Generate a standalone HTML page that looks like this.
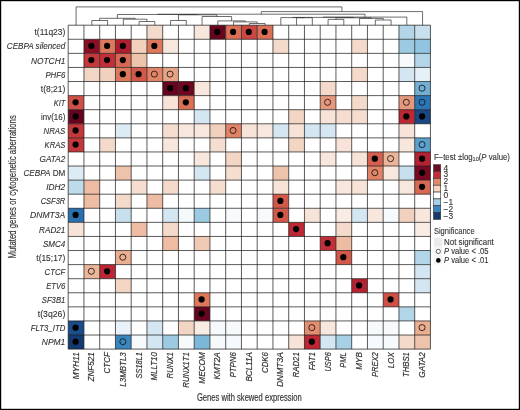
<!DOCTYPE html>
<html lang="en"><head><meta charset="utf-8"><title>Heatmap of mutated genes versus genes with skewed expression</title>
<style>html,body{margin:0;padding:0;background:#fff}body{width:520px;height:410px;overflow:hidden}svg{display:block}text{font-family:"Liberation Sans",Arial,sans-serif;fill:#303030}.i{font-style:italic}#legend text{stroke:#303030;stroke-width:.1px}</style></head><body>
<svg width="520" height="410" viewBox="0 0 520 410">
<rect x="0" y="0" width="520" height="410" fill="#fff"/>
<g id="plot">
<g id="cells" shape-rendering="geometricPrecision">
<rect x="146.95" y="25.20" width="15.75" height="14.08" fill="#f4daca"/>
<rect x="194.20" y="25.20" width="15.75" height="14.08" fill="#f8e7dd"/>
<rect x="209.95" y="25.20" width="15.75" height="14.08" fill="#67051f"/>
<rect x="225.70" y="25.20" width="15.75" height="14.08" fill="#da7058"/>
<rect x="241.45" y="25.20" width="15.75" height="14.08" fill="#cb4842"/>
<rect x="257.20" y="25.20" width="15.75" height="14.08" fill="#da7058"/>
<rect x="398.95" y="25.20" width="15.75" height="14.08" fill="#b2d5e8"/>
<rect x="414.70" y="25.20" width="15.75" height="14.08" fill="#c8e0ee"/>
<rect x="83.95" y="39.28" width="15.75" height="14.08" fill="#8c0e26"/>
<rect x="99.70" y="39.28" width="15.75" height="14.08" fill="#dd785c"/>
<rect x="115.45" y="39.28" width="15.75" height="14.08" fill="#ad1e2f"/>
<rect x="131.20" y="39.28" width="15.75" height="14.08" fill="#f1d1bd"/>
<rect x="146.95" y="39.28" width="15.75" height="14.08" fill="#dd785c"/>
<rect x="162.70" y="39.28" width="15.75" height="14.08" fill="#f8e7dd"/>
<rect x="272.95" y="39.28" width="15.75" height="14.08" fill="#f4daca"/>
<rect x="351.70" y="39.28" width="15.75" height="14.08" fill="#f4daca"/>
<rect x="398.95" y="39.28" width="15.75" height="14.08" fill="#9ccae2"/>
<rect x="414.70" y="39.28" width="15.75" height="14.08" fill="#91c4df"/>
<rect x="83.95" y="53.37" width="15.75" height="14.08" fill="#c4373b"/>
<rect x="99.70" y="53.37" width="15.75" height="14.08" fill="#c12f38"/>
<rect x="115.45" y="53.37" width="15.75" height="14.08" fill="#d76853"/>
<rect x="131.20" y="53.37" width="15.75" height="14.08" fill="#eec3ab"/>
<rect x="398.95" y="53.37" width="15.75" height="14.08" fill="#f6fafc"/>
<rect x="414.70" y="53.37" width="15.75" height="14.08" fill="#b2d5e8"/>
<rect x="83.95" y="67.45" width="15.75" height="14.08" fill="#f2d5c3"/>
<rect x="99.70" y="67.45" width="15.75" height="14.08" fill="#f1d1bd"/>
<rect x="115.45" y="67.45" width="15.75" height="14.08" fill="#dd785c"/>
<rect x="131.20" y="67.45" width="15.75" height="14.08" fill="#d2584a"/>
<rect x="146.95" y="67.45" width="15.75" height="14.08" fill="#e08367"/>
<rect x="162.70" y="67.45" width="15.75" height="14.08" fill="#e7a386"/>
<rect x="351.70" y="67.45" width="15.75" height="14.08" fill="#f4daca"/>
<rect x="398.95" y="67.45" width="15.75" height="14.08" fill="#d3e6f1"/>
<rect x="414.70" y="67.45" width="15.75" height="14.08" fill="#e5f0f7"/>
<rect x="162.70" y="81.53" width="15.75" height="14.08" fill="#67051f"/>
<rect x="178.45" y="81.53" width="15.75" height="14.08" fill="#700721"/>
<rect x="194.20" y="81.53" width="15.75" height="14.08" fill="#f8e7dd"/>
<rect x="320.20" y="81.53" width="15.75" height="14.08" fill="#f4daca"/>
<rect x="414.70" y="81.53" width="15.75" height="14.08" fill="#71b0d4"/>
<rect x="68.20" y="95.61" width="15.75" height="14.08" fill="#cf5046"/>
<rect x="162.70" y="95.61" width="15.75" height="14.08" fill="#f7e3d7"/>
<rect x="178.45" y="95.61" width="15.75" height="14.08" fill="#da7058"/>
<rect x="320.20" y="95.61" width="15.75" height="14.08" fill="#e5987c"/>
<rect x="351.70" y="95.61" width="15.75" height="14.08" fill="#f4daca"/>
<rect x="398.95" y="95.61" width="15.75" height="14.08" fill="#e5987c"/>
<rect x="414.70" y="95.61" width="15.75" height="14.08" fill="#2b77b6"/>
<rect x="68.20" y="109.70" width="15.75" height="14.08" fill="#67051f"/>
<rect x="194.20" y="109.70" width="15.75" height="14.08" fill="#d3e6f1"/>
<rect x="288.70" y="109.70" width="15.75" height="14.08" fill="#f2d5c3"/>
<rect x="320.20" y="109.70" width="15.75" height="14.08" fill="#f7e3d7"/>
<rect x="335.95" y="109.70" width="15.75" height="14.08" fill="#f5ded0"/>
<rect x="351.70" y="109.70" width="15.75" height="14.08" fill="#f5ded0"/>
<rect x="398.95" y="109.70" width="15.75" height="14.08" fill="#bd2734"/>
<rect x="414.70" y="109.70" width="15.75" height="14.08" fill="#184784"/>
<rect x="68.20" y="123.78" width="15.75" height="14.08" fill="#c4373b"/>
<rect x="115.45" y="123.78" width="15.75" height="14.08" fill="#dcebf4"/>
<rect x="162.70" y="123.78" width="15.75" height="14.08" fill="#f5ded0"/>
<rect x="178.45" y="123.78" width="15.75" height="14.08" fill="#f8e7dd"/>
<rect x="194.20" y="123.78" width="15.75" height="14.08" fill="#f8e7dd"/>
<rect x="209.95" y="123.78" width="15.75" height="14.08" fill="#f1d1bd"/>
<rect x="225.70" y="123.78" width="15.75" height="14.08" fill="#e08367"/>
<rect x="241.45" y="123.78" width="15.75" height="14.08" fill="#f7e3d7"/>
<rect x="257.20" y="123.78" width="15.75" height="14.08" fill="#f8e7dd"/>
<rect x="272.95" y="123.78" width="15.75" height="14.08" fill="#d3e6f1"/>
<rect x="288.70" y="123.78" width="15.75" height="14.08" fill="#f7e3d7"/>
<rect x="304.45" y="123.78" width="15.75" height="14.08" fill="#d3e6f1"/>
<rect x="320.20" y="123.78" width="15.75" height="14.08" fill="#d3e6f1"/>
<rect x="398.95" y="123.78" width="15.75" height="14.08" fill="#f7e3d7"/>
<rect x="68.20" y="137.86" width="15.75" height="14.08" fill="#c4373b"/>
<rect x="99.70" y="137.86" width="15.75" height="14.08" fill="#f4daca"/>
<rect x="162.70" y="137.86" width="15.75" height="14.08" fill="#f8e7dd"/>
<rect x="209.95" y="137.86" width="15.75" height="14.08" fill="#f5ded0"/>
<rect x="288.70" y="137.86" width="15.75" height="14.08" fill="#f2d5c3"/>
<rect x="335.95" y="137.86" width="15.75" height="14.08" fill="#f7e3d7"/>
<rect x="398.95" y="137.86" width="15.75" height="14.08" fill="#f8e7dd"/>
<rect x="414.70" y="137.86" width="15.75" height="14.08" fill="#5ba1cd"/>
<rect x="194.20" y="151.94" width="15.75" height="14.08" fill="#f8e7dd"/>
<rect x="225.70" y="151.94" width="15.75" height="14.08" fill="#f2d5c3"/>
<rect x="320.20" y="151.94" width="15.75" height="14.08" fill="#f8e7dd"/>
<rect x="351.70" y="151.94" width="15.75" height="14.08" fill="#f7e3d7"/>
<rect x="367.45" y="151.94" width="15.75" height="14.08" fill="#d5604f"/>
<rect x="383.20" y="151.94" width="15.75" height="14.08" fill="#ebb59a"/>
<rect x="414.70" y="151.94" width="15.75" height="14.08" fill="#b52232"/>
<rect x="68.20" y="166.03" width="15.75" height="14.08" fill="#dcebf4"/>
<rect x="115.45" y="166.03" width="15.75" height="14.08" fill="#eec3ab"/>
<rect x="194.20" y="166.03" width="15.75" height="14.08" fill="#d3e6f1"/>
<rect x="225.70" y="166.03" width="15.75" height="14.08" fill="#f5ded0"/>
<rect x="272.95" y="166.03" width="15.75" height="14.08" fill="#eec3ab"/>
<rect x="367.45" y="166.03" width="15.75" height="14.08" fill="#e08367"/>
<rect x="383.20" y="166.03" width="15.75" height="14.08" fill="#f8e7dd"/>
<rect x="398.95" y="166.03" width="15.75" height="14.08" fill="#c8e0ee"/>
<rect x="414.70" y="166.03" width="15.75" height="14.08" fill="#790923"/>
<rect x="68.20" y="180.11" width="15.75" height="14.08" fill="#bddbeb"/>
<rect x="83.95" y="180.11" width="15.75" height="14.08" fill="#edbca3"/>
<rect x="131.20" y="180.11" width="15.75" height="14.08" fill="#f5ded0"/>
<rect x="162.70" y="180.11" width="15.75" height="14.08" fill="#f4daca"/>
<rect x="209.95" y="180.11" width="15.75" height="14.08" fill="#f5ded0"/>
<rect x="272.95" y="180.11" width="15.75" height="14.08" fill="#f7e3d7"/>
<rect x="335.95" y="180.11" width="15.75" height="14.08" fill="#f8e7dd"/>
<rect x="351.70" y="180.11" width="15.75" height="14.08" fill="#f7e3d7"/>
<rect x="398.95" y="180.11" width="15.75" height="14.08" fill="#f8e7dd"/>
<rect x="414.70" y="180.11" width="15.75" height="14.08" fill="#d76853"/>
<rect x="83.95" y="194.19" width="15.75" height="14.08" fill="#edbca3"/>
<rect x="115.45" y="194.19" width="15.75" height="14.08" fill="#f4daca"/>
<rect x="146.95" y="194.19" width="15.75" height="14.08" fill="#edbca3"/>
<rect x="272.95" y="194.19" width="15.75" height="14.08" fill="#d2584a"/>
<rect x="68.20" y="208.27" width="15.75" height="14.08" fill="#2870b0"/>
<rect x="115.45" y="208.27" width="15.75" height="14.08" fill="#c8e0ee"/>
<rect x="162.70" y="208.27" width="15.75" height="14.08" fill="#d3e6f1"/>
<rect x="178.45" y="208.27" width="15.75" height="14.08" fill="#f4f9fc"/>
<rect x="194.20" y="208.27" width="15.75" height="14.08" fill="#9ccae2"/>
<rect x="225.70" y="208.27" width="15.75" height="14.08" fill="#f6fafc"/>
<rect x="257.20" y="208.27" width="15.75" height="14.08" fill="#f6fafc"/>
<rect x="272.95" y="208.27" width="15.75" height="14.08" fill="#d2584a"/>
<rect x="304.45" y="208.27" width="15.75" height="14.08" fill="#f7e3d7"/>
<rect x="335.95" y="208.27" width="15.75" height="14.08" fill="#f9ece4"/>
<rect x="351.70" y="208.27" width="15.75" height="14.08" fill="#d3e6f1"/>
<rect x="367.45" y="208.27" width="15.75" height="14.08" fill="#f8e7dd"/>
<rect x="383.20" y="208.27" width="15.75" height="14.08" fill="#f6fafc"/>
<rect x="398.95" y="208.27" width="15.75" height="14.08" fill="#f1d1bd"/>
<rect x="414.70" y="208.27" width="15.75" height="14.08" fill="#f8e7dd"/>
<rect x="68.20" y="222.36" width="15.75" height="14.08" fill="#f7e3d7"/>
<rect x="131.20" y="222.36" width="15.75" height="14.08" fill="#edbca3"/>
<rect x="162.70" y="222.36" width="15.75" height="14.08" fill="#f4daca"/>
<rect x="288.70" y="222.36" width="15.75" height="14.08" fill="#bd2734"/>
<rect x="335.95" y="222.36" width="15.75" height="14.08" fill="#f4daca"/>
<rect x="414.70" y="222.36" width="15.75" height="14.08" fill="#f9ece4"/>
<rect x="162.70" y="236.44" width="15.75" height="14.08" fill="#edbca3"/>
<rect x="194.20" y="236.44" width="15.75" height="14.08" fill="#f0cab4"/>
<rect x="320.20" y="236.44" width="15.75" height="14.08" fill="#c12f38"/>
<rect x="335.95" y="236.44" width="15.75" height="14.08" fill="#edbca3"/>
<rect x="115.45" y="250.52" width="15.75" height="14.08" fill="#eaae91"/>
<rect x="335.95" y="250.52" width="15.75" height="14.08" fill="#d2584a"/>
<rect x="414.70" y="250.52" width="15.75" height="14.08" fill="#b2d5e8"/>
<rect x="83.95" y="264.60" width="15.75" height="14.08" fill="#ebb59a"/>
<rect x="99.70" y="264.60" width="15.75" height="14.08" fill="#bd2734"/>
<rect x="414.70" y="264.60" width="15.75" height="14.08" fill="#d3e6f1"/>
<rect x="115.45" y="278.69" width="15.75" height="14.08" fill="#f2d5c3"/>
<rect x="351.70" y="278.69" width="15.75" height="14.08" fill="#b52232"/>
<rect x="414.70" y="278.69" width="15.75" height="14.08" fill="#d3e6f1"/>
<rect x="194.20" y="292.77" width="15.75" height="14.08" fill="#dd785c"/>
<rect x="383.20" y="292.77" width="15.75" height="14.08" fill="#cf5046"/>
<rect x="194.20" y="306.85" width="15.75" height="14.08" fill="#67051f"/>
<rect x="398.95" y="306.85" width="15.75" height="14.08" fill="#b2d5e8"/>
<rect x="68.20" y="320.93" width="15.75" height="14.08" fill="#194d8c"/>
<rect x="115.45" y="320.93" width="15.75" height="14.08" fill="#e9f2f8"/>
<rect x="146.95" y="320.93" width="15.75" height="14.08" fill="#d3e6f1"/>
<rect x="178.45" y="320.93" width="15.75" height="14.08" fill="#f2d5c3"/>
<rect x="194.20" y="320.93" width="15.75" height="14.08" fill="#f9ece4"/>
<rect x="209.95" y="320.93" width="15.75" height="14.08" fill="#f6fafc"/>
<rect x="225.70" y="320.93" width="15.75" height="14.08" fill="#f6fafc"/>
<rect x="304.45" y="320.93" width="15.75" height="14.08" fill="#e28e71"/>
<rect x="320.20" y="320.93" width="15.75" height="14.08" fill="#f8e7dd"/>
<rect x="367.45" y="320.93" width="15.75" height="14.08" fill="#f6fafc"/>
<rect x="383.20" y="320.93" width="15.75" height="14.08" fill="#f6fafc"/>
<rect x="414.70" y="320.93" width="15.75" height="14.08" fill="#eaae91"/>
<rect x="68.20" y="335.02" width="15.75" height="14.08" fill="#143a72"/>
<rect x="115.45" y="335.02" width="15.75" height="14.08" fill="#3a87c0"/>
<rect x="131.20" y="335.02" width="15.75" height="14.08" fill="#f6fafc"/>
<rect x="146.95" y="335.02" width="15.75" height="14.08" fill="#d3e6f1"/>
<rect x="162.70" y="335.02" width="15.75" height="14.08" fill="#9ccae2"/>
<rect x="178.45" y="335.02" width="15.75" height="14.08" fill="#f6fafc"/>
<rect x="194.20" y="335.02" width="15.75" height="14.08" fill="#7cb7d8"/>
<rect x="209.95" y="335.02" width="15.75" height="14.08" fill="#f6fafc"/>
<rect x="225.70" y="335.02" width="15.75" height="14.08" fill="#f6fafc"/>
<rect x="288.70" y="335.02" width="15.75" height="14.08" fill="#f7e3d7"/>
<rect x="304.45" y="335.02" width="15.75" height="14.08" fill="#bd2734"/>
<rect x="320.20" y="335.02" width="15.75" height="14.08" fill="#d3e6f1"/>
<rect x="335.95" y="335.02" width="15.75" height="14.08" fill="#a7d0e5"/>
<rect x="367.45" y="335.02" width="15.75" height="14.08" fill="#f6fafc"/>
<rect x="383.20" y="335.02" width="15.75" height="14.08" fill="#f6fafc"/>
<rect x="398.95" y="335.02" width="15.75" height="14.08" fill="#f4daca"/>
<rect x="414.70" y="335.02" width="15.75" height="14.08" fill="#eec3ab"/>
</g>
<g id="grid" stroke="#1c1c1c" stroke-width="0.72" fill="none">
<path d="M68.20 25.20V349.10M83.95 25.20V349.10M99.70 25.20V349.10M115.45 25.20V349.10M131.20 25.20V349.10M146.95 25.20V349.10M162.70 25.20V349.10M178.45 25.20V349.10M194.20 25.20V349.10M209.95 25.20V349.10M225.70 25.20V349.10M241.45 25.20V349.10M257.20 25.20V349.10M272.95 25.20V349.10M288.70 25.20V349.10M304.45 25.20V349.10M320.20 25.20V349.10M335.95 25.20V349.10M351.70 25.20V349.10M367.45 25.20V349.10M383.20 25.20V349.10M398.95 25.20V349.10M414.70 25.20V349.10M430.45 25.20V349.10M68.20 25.20H430.45M68.20 39.28H430.45M68.20 53.37H430.45M68.20 67.45H430.45M68.20 81.53H430.45M68.20 95.61H430.45M68.20 109.70H430.45M68.20 123.78H430.45M68.20 137.86H430.45M68.20 151.94H430.45M68.20 166.03H430.45M68.20 180.11H430.45M68.20 194.19H430.45M68.20 208.27H430.45M68.20 222.36H430.45M68.20 236.44H430.45M68.20 250.52H430.45M68.20 264.60H430.45M68.20 278.69H430.45M68.20 292.77H430.45M68.20 306.85H430.45M68.20 320.93H430.45M68.20 335.02H430.45M68.20 349.10H430.45"/>
</g>
<g id="marks">
<circle cx="217.32" cy="31.89" r="3.1" fill="#000"/>
<circle cx="233.07" cy="31.89" r="3.1" fill="#000"/>
<circle cx="248.82" cy="31.89" r="3.1" fill="#000"/>
<circle cx="264.57" cy="31.89" r="3.1" fill="#000"/>
<circle cx="91.33" cy="45.97" r="3.1" fill="#000"/>
<circle cx="107.08" cy="45.97" r="3.1" fill="#000"/>
<circle cx="122.83" cy="45.97" r="3.1" fill="#000"/>
<circle cx="154.32" cy="45.97" r="3.1" fill="#000"/>
<circle cx="91.33" cy="60.06" r="3.1" fill="#000"/>
<circle cx="107.08" cy="60.06" r="3.1" fill="#000"/>
<circle cx="122.83" cy="60.06" r="3.1" fill="#000"/>
<circle cx="122.83" cy="74.14" r="3.1" fill="#000"/>
<circle cx="138.57" cy="74.14" r="3.1" fill="#000"/>
<circle cx="154.32" cy="74.14" r="3.05" fill="none" stroke="#1a1212" stroke-width="0.85"/>
<circle cx="170.07" cy="74.14" r="3.05" fill="none" stroke="#1a1212" stroke-width="0.85"/>
<circle cx="170.07" cy="88.22" r="3.1" fill="#000"/>
<circle cx="185.82" cy="88.22" r="3.1" fill="#000"/>
<circle cx="422.07" cy="88.22" r="3.05" fill="none" stroke="#1a1212" stroke-width="0.85"/>
<circle cx="75.58" cy="102.30" r="3.1" fill="#000"/>
<circle cx="185.82" cy="102.30" r="3.1" fill="#000"/>
<circle cx="327.57" cy="102.30" r="3.05" fill="none" stroke="#1a1212" stroke-width="0.85"/>
<circle cx="406.32" cy="102.30" r="3.05" fill="none" stroke="#1a1212" stroke-width="0.85"/>
<circle cx="422.07" cy="102.30" r="3.05" fill="none" stroke="#1a1212" stroke-width="0.85"/>
<circle cx="75.58" cy="116.39" r="3.1" fill="#000"/>
<circle cx="406.32" cy="116.39" r="3.1" fill="#000"/>
<circle cx="422.07" cy="116.39" r="3.1" fill="#000"/>
<circle cx="75.58" cy="130.47" r="3.1" fill="#000"/>
<circle cx="233.07" cy="130.47" r="3.05" fill="none" stroke="#1a1212" stroke-width="0.85"/>
<circle cx="75.58" cy="144.55" r="3.1" fill="#000"/>
<circle cx="422.07" cy="144.55" r="3.05" fill="none" stroke="#1a1212" stroke-width="0.85"/>
<circle cx="374.82" cy="158.63" r="3.1" fill="#000"/>
<circle cx="390.57" cy="158.63" r="3.05" fill="none" stroke="#1a1212" stroke-width="0.85"/>
<circle cx="422.07" cy="158.63" r="3.1" fill="#000"/>
<circle cx="374.82" cy="172.72" r="3.05" fill="none" stroke="#1a1212" stroke-width="0.85"/>
<circle cx="422.07" cy="172.72" r="3.1" fill="#000"/>
<circle cx="422.07" cy="186.80" r="3.1" fill="#000"/>
<circle cx="280.32" cy="200.88" r="3.1" fill="#000"/>
<circle cx="75.58" cy="214.97" r="3.1" fill="#000"/>
<circle cx="280.32" cy="214.97" r="3.1" fill="#000"/>
<circle cx="296.07" cy="229.05" r="3.1" fill="#000"/>
<circle cx="327.57" cy="243.13" r="3.1" fill="#000"/>
<circle cx="122.83" cy="257.21" r="3.05" fill="none" stroke="#1a1212" stroke-width="0.85"/>
<circle cx="343.32" cy="257.21" r="3.1" fill="#000"/>
<circle cx="91.33" cy="271.30" r="3.05" fill="none" stroke="#1a1212" stroke-width="0.85"/>
<circle cx="107.08" cy="271.30" r="3.1" fill="#000"/>
<circle cx="359.07" cy="285.38" r="3.1" fill="#000"/>
<circle cx="201.57" cy="299.46" r="3.1" fill="#000"/>
<circle cx="390.57" cy="299.46" r="3.1" fill="#000"/>
<circle cx="201.57" cy="313.54" r="3.1" fill="#000"/>
<circle cx="75.58" cy="327.63" r="3.1" fill="#000"/>
<circle cx="311.82" cy="327.63" r="3.05" fill="none" stroke="#1a1212" stroke-width="0.85"/>
<circle cx="422.07" cy="327.63" r="3.05" fill="none" stroke="#1a1212" stroke-width="0.85"/>
<circle cx="75.58" cy="341.71" r="3.1" fill="#000"/>
<circle cx="122.83" cy="341.71" r="3.05" fill="none" stroke="#1a1212" stroke-width="0.85"/>
<circle cx="311.82" cy="341.71" r="3.1" fill="#000"/>
</g>
<g id="dendrogram" fill="none" stroke="#2e2e2e" stroke-width="0.7">
<path d="M91.83 25.20V20.50H107.58V25.20"/>
<path d="M139.07 25.20V21.50H154.82V25.20"/>
<path d="M123.33 25.20V19.20H146.95V21.50"/>
<path d="M99.70 20.50V18.30H135.14V19.20"/>
<path d="M170.57 25.20V20.50H186.32V25.20"/>
<path d="M249.32 25.20V23.50H265.07V25.20"/>
<path d="M233.57 25.20V21.90H257.20V23.50"/>
<path d="M217.82 25.20V20.90H245.39V21.90"/>
<path d="M202.07 25.20V16.50H231.61V20.90"/>
<path d="M178.45 20.50V14.80H216.84V16.50"/>
<path d="M117.42 18.30V14.50H197.65V14.80"/>
<path d="M296.57 25.20V17.70H312.32V25.20"/>
<path d="M280.82 25.20V17.60H304.45V17.70"/>
<path d="M328.07 25.20V19.40H343.82V25.20"/>
<path d="M375.32 25.20V20.00H391.07V25.20"/>
<path d="M359.57 25.20V18.40H383.20V20.00"/>
<path d="M335.95 19.40V17.80H371.39V18.40"/>
<path d="M292.64 17.60V17.40H353.67V17.80"/>
<path d="M323.15 17.40V17.10H406.82V25.20"/>
<path d="M157.53 14.50V14.20H364.99V17.10"/>
<path d="M261.26 14.20V11.60H422.57V25.20"/>
<path d="M76.08 25.20V6.90H341.92V11.60"/>
</g>
<g id="rowlabels" font-size="8.6" text-anchor="end" stroke="#303030" stroke-width="0.1">
<text x="65.3" y="35.34" textLength="30.8" lengthAdjust="spacingAndGlyphs">t(11q23)</text>
<text class="i" x="65.3" y="49.42" textLength="58.5" lengthAdjust="spacingAndGlyphs">CEBPA silenced</text>
<text class="i" x="65.3" y="63.51" textLength="34.3" lengthAdjust="spacingAndGlyphs">NOTCH1</text>
<text class="i" x="65.3" y="77.59" textLength="19.9" lengthAdjust="spacingAndGlyphs">PHF6</text>
<text x="65.3" y="91.67" textLength="24.5" lengthAdjust="spacingAndGlyphs">t(8;21)</text>
<text class="i" x="65.3" y="105.75" textLength="11.5" lengthAdjust="spacingAndGlyphs">KIT</text>
<text x="65.3" y="119.84" textLength="24.2" lengthAdjust="spacingAndGlyphs">inv(16)</text>
<text class="i" x="65.3" y="133.92" textLength="21.8" lengthAdjust="spacingAndGlyphs">NRAS</text>
<text class="i" x="65.3" y="148.00" textLength="20.7" lengthAdjust="spacingAndGlyphs">KRAS</text>
<text class="i" x="65.3" y="162.08" textLength="25.7" lengthAdjust="spacingAndGlyphs">GATA2</text>
<text x="65.3" y="176.17" textLength="41.8" lengthAdjust="spacingAndGlyphs"><tspan class="i">CEBPA</tspan> DM</text>
<text class="i" x="65.3" y="190.25" textLength="19.1" lengthAdjust="spacingAndGlyphs">IDH2</text>
<text class="i" x="65.3" y="204.33" textLength="24.6" lengthAdjust="spacingAndGlyphs">CSF3R</text>
<text class="i" x="65.3" y="218.42" textLength="35.2" lengthAdjust="spacingAndGlyphs">DNMT3A</text>
<text class="i" x="65.3" y="232.50" textLength="26.2" lengthAdjust="spacingAndGlyphs">RAD21</text>
<text class="i" x="65.3" y="246.58" textLength="22.4" lengthAdjust="spacingAndGlyphs">SMC4</text>
<text x="65.3" y="260.66" textLength="29" lengthAdjust="spacingAndGlyphs">t(15;17)</text>
<text class="i" x="65.3" y="274.75" textLength="20.7" lengthAdjust="spacingAndGlyphs">CTCF</text>
<text class="i" x="65.3" y="288.83" textLength="19.1" lengthAdjust="spacingAndGlyphs">ETV6</text>
<text class="i" x="65.3" y="302.91" textLength="23.5" lengthAdjust="spacingAndGlyphs">SF3B1</text>
<text x="65.3" y="316.99" textLength="27.5" lengthAdjust="spacingAndGlyphs">t(3q26)</text>
<text class="i" x="65.3" y="331.08" textLength="34.5" lengthAdjust="spacingAndGlyphs">FLT3_ITD</text>
<text class="i" x="65.3" y="345.16" textLength="23.5" lengthAdjust="spacingAndGlyphs">NPM1</text>
</g>
<g id="collabels" font-size="8.6" text-anchor="end" class="i" stroke="#303030" stroke-width="0.18">
<text transform="translate(78.67 352.2) rotate(-90)" textLength="27" lengthAdjust="spacingAndGlyphs">MYH11</text>
<text transform="translate(94.42 352.2) rotate(-90)" textLength="29.3" lengthAdjust="spacingAndGlyphs">ZNF521</text>
<text transform="translate(110.17 352.2) rotate(-90)" textLength="21.2" lengthAdjust="spacingAndGlyphs">CTCF</text>
<text transform="translate(125.92 352.2) rotate(-90)" textLength="34.5" lengthAdjust="spacingAndGlyphs">L3MBTL3</text>
<text transform="translate(141.67 352.2) rotate(-90)" textLength="26.25" lengthAdjust="spacingAndGlyphs">SS18L1</text>
<text transform="translate(157.42 352.2) rotate(-90)" textLength="28.25" lengthAdjust="spacingAndGlyphs">MLLT10</text>
<text transform="translate(173.17 352.2) rotate(-90)" textLength="26.25" lengthAdjust="spacingAndGlyphs">RUNX1</text>
<text transform="translate(188.92 352.2) rotate(-90)" textLength="35.5" lengthAdjust="spacingAndGlyphs">RUNX1T1</text>
<text transform="translate(204.67 352.2) rotate(-90)" textLength="31.5" lengthAdjust="spacingAndGlyphs">MECOM</text>
<text transform="translate(220.42 352.2) rotate(-90)" textLength="27.3" lengthAdjust="spacingAndGlyphs">KMT2A</text>
<text transform="translate(236.17 352.2) rotate(-90)" textLength="25.3" lengthAdjust="spacingAndGlyphs">PTPN6</text>
<text transform="translate(251.92 352.2) rotate(-90)" textLength="29.3" lengthAdjust="spacingAndGlyphs">BCL11A</text>
<text transform="translate(267.68 352.2) rotate(-90)" textLength="20.8" lengthAdjust="spacingAndGlyphs">CDK6</text>
<text transform="translate(283.43 352.2) rotate(-90)" textLength="34.8" lengthAdjust="spacingAndGlyphs">DNMT3A</text>
<text transform="translate(299.18 352.2) rotate(-90)" textLength="25.3" lengthAdjust="spacingAndGlyphs">RAD21</text>
<text transform="translate(314.93 352.2) rotate(-90)" textLength="18" lengthAdjust="spacingAndGlyphs">FAT1</text>
<text transform="translate(330.68 352.2) rotate(-90)" textLength="19.3" lengthAdjust="spacingAndGlyphs">USP6</text>
<text transform="translate(346.43 352.2) rotate(-90)" textLength="15.5" lengthAdjust="spacingAndGlyphs">PML</text>
<text transform="translate(362.18 352.2) rotate(-90)" textLength="17.5" lengthAdjust="spacingAndGlyphs">MYB</text>
<text transform="translate(377.93 352.2) rotate(-90)" textLength="24.8" lengthAdjust="spacingAndGlyphs">PREX2</text>
<text transform="translate(393.68 352.2) rotate(-90)" textLength="16" lengthAdjust="spacingAndGlyphs">LOX</text>
<text transform="translate(409.43 352.2) rotate(-90)" textLength="24.8" lengthAdjust="spacingAndGlyphs">THBS1</text>
<text transform="translate(425.18 352.2) rotate(-90)" textLength="25.5" lengthAdjust="spacingAndGlyphs">GATA2</text>
</g>
<text id="xtitle" x="249.3" y="400.5" font-size="10" stroke="#303030" stroke-width="0.15" text-anchor="middle" textLength="104.8" lengthAdjust="spacingAndGlyphs">Genes with skewed expression</text>
<text id="ytitle" transform="translate(16.0 186.9) rotate(-90)" font-size="10" stroke="#303030" stroke-width="0.15" text-anchor="middle" textLength="143.4" lengthAdjust="spacingAndGlyphs">Mutated genes or cytogenetic aberrations</text>
<g id="legend" font-size="8.4">
<text x="433.9" y="159.8" textLength="76" lengthAdjust="spacingAndGlyphs">F−test ±log<tspan font-size="6" dy="1.6">10</tspan><tspan dy="-1.6">(</tspan><tspan class="i">P</tspan> value)</text>
<rect x="433.5" y="164.70" width="7.2" height="6.84" fill="#6a0d23" stroke="#333" stroke-width="0.6"/>
<text x="443.5" y="170.62">4</text>
<rect x="433.5" y="171.54" width="7.2" height="6.84" fill="#c42a3a" stroke="#333" stroke-width="0.6"/>
<text x="443.5" y="177.46">3</text>
<rect x="433.5" y="178.38" width="7.2" height="6.84" fill="#e08a68" stroke="#333" stroke-width="0.6"/>
<text x="443.5" y="184.30">2</text>
<rect x="433.5" y="185.22" width="7.2" height="6.84" fill="#f8d3bd" stroke="#333" stroke-width="0.6"/>
<text x="443.5" y="191.14">1</text>
<rect x="433.5" y="192.06" width="7.2" height="6.84" fill="#ffffff" stroke="#333" stroke-width="0.6"/>
<text x="443.5" y="197.98">0</text>
<rect x="433.5" y="198.90" width="7.2" height="6.84" fill="#a6d0e8" stroke="#333" stroke-width="0.6"/>
<text x="443.5" y="204.82">−1</text>
<rect x="433.5" y="205.74" width="7.2" height="6.84" fill="#3a85c3" stroke="#333" stroke-width="0.6"/>
<text x="443.5" y="211.66">−2</text>
<rect x="433.5" y="212.58" width="7.2" height="6.84" fill="#17376d" stroke="#333" stroke-width="0.6"/>
<text x="443.5" y="218.50">−3</text>
<text x="433.9" y="234.2" textLength="40.7" lengthAdjust="spacingAndGlyphs">Significance</text>
<rect x="434" y="237.8" width="8.3" height="8.9" fill="#ebebeb"/>
<rect x="434" y="246.7" width="8.3" height="18" fill="#f5f5f5"/>
<text x="444" y="244.9" textLength="49.8" lengthAdjust="spacingAndGlyphs">Not significant</text>
<circle cx="438.3" cy="251.4" r="2.1" fill="#fff" stroke="#222" stroke-width="0.7"/>
<text x="444" y="253.9" textLength="44.5" lengthAdjust="spacingAndGlyphs"><tspan class="i">P</tspan> value &lt; .05</text>
<circle cx="438.3" cy="260.4" r="2.3" fill="#000"/>
<text x="444" y="262.9" textLength="44.5" lengthAdjust="spacingAndGlyphs"><tspan class="i">P</tspan> value &lt; .01</text>
</g>
</g>
<rect id="frame" x="0" y="0" width="520" height="410" fill="none" stroke="#000" stroke-width="2.4"/>
</svg></body></html>
